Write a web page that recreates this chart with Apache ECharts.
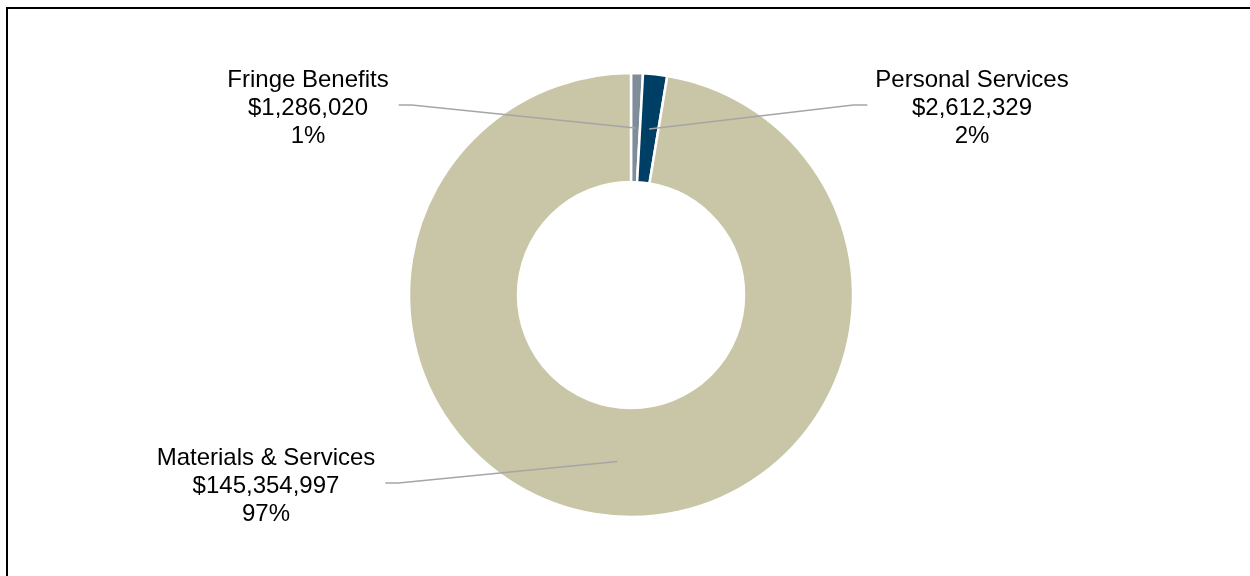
<!DOCTYPE html>
<html>
<head>
<meta charset="utf-8">
<script src="https://cdn.jsdelivr.net/npm/echarts@6/dist/echarts.min.js"></script>
<style>
  html, body { margin: 0; padding: 0; background: #fff; }
  #chart { width: 1250px; height: 576px; }
</style>
</head>
<body>
<div id="chart"></div>
<script>
// data
let categories = ['Fringe Benefits', 'Personal Services', 'Materials & Services'];
let amounts = [1286020, 2612329, 145354997];

// colours + where each label block sits (centre of the text)
let colors = ['#808C98', '#003F65', '#C8C6A6'];
let labelPos = [[308, 108], [972, 108], [266, 486]];

let formatMoney = function(num) {
    return '$' + num.toString().replace(/(?=(\B)(\d{3})+$)/g, ',');
}
let total = amounts.reduce((a, b) => a + b, 0);

let pieData = categories.map((name, i) => {
    return { name: name, value: amounts[i] };
});

var chart = echarts.init(document.getElementById('chart'));

let option = {
    backgroundColor: '#fff',
    animation: false,
    color: colors,
    graphic: [{
        type: 'rect',
        shape: { x: 7, y: 8, width: 1300, height: 700 },
        style: { fill: 'none', stroke: '#000', lineWidth: 2 },
        silent: true
    }],
    series: [{
        // the donut itself
        type: 'pie',
        z: 1,
        center: [631, 295],
        radius: [113, 222],
        startAngle: 90,
        clockwise: true,
        data: pieData,
        label: { show: false },
        labelLine: { show: false },
        itemStyle: { borderColor: '#fff', borderWidth: 2.5 },
        emphasis: { disabled: true },
        silent: true
    }, {
        // invisible copy, only here to carry labels and leader lines
        type: 'pie',
        z: 5,
        center: [631, 295],
        radius: [0, 167],
        startAngle: 90,
        clockwise: true,
        data: pieData,
        silent: true,
        emphasis: { disabled: true },
        itemStyle: { color: 'rgba(0,0,0,0)' },
        label: {
            show: true,
            position: 'outside',
            color: '#000',
            fontFamily: 'Liberation Sans, Arial, sans-serif',
            fontSize: 24,
            lineHeight: 28,
            align: 'center',
            formatter: params => {
                let pct = Math.round(params.value / total * 100);
                return params.name + '\n' + formatMoney(params.value) + '\n' + pct + '%';
            }
        },
        labelLine: {
            show: true,
            length: 10,
            length2: 10,
            lineStyle: { color: '#A5A5A5', width: 1.5 }
        },
        labelLayout: params => {
            let p = labelPos[params.dataIndex];
            let w = params.labelRect.width;
            let anchor = params.labelLinePoints ? params.labelLinePoints[0] : [631, 295];
            let lineY = p[1] - 3;
            let end, elbow;
            if (p[0] < anchor[0]) {
                end = p[0] + w / 2 + 10;
                elbow = end + 13;
            } else {
                end = p[0] - w / 2 - 8;
                elbow = end - 14;
            }
            return {
                x: p[0],
                y: p[1],
                align: 'center',
                verticalAlign: 'middle',
                labelLinePoints: [anchor, [elbow, lineY], [end, lineY]]
            };
        }
    }]
};
chart.setOption(option);
</script>
</body>
</html>
